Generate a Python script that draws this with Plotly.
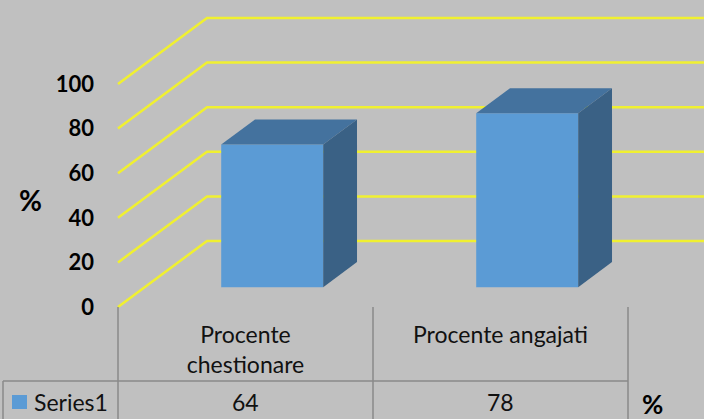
import plotly.graph_objects as go

# ---- data ----
categories = ["Procente<br>chestionare", "Procente angajati"]
series_name = "Series1"
values = [64, 78]
tick_values = [0, 20, 40, 60, 80, 100]

# ---- geometry / style constants ----
W, H = 704, 419
L, R, T, B = 100, 0, 0, 100
CAT_PX = 255.0      # pixels per category
CAT0_PX = 245.5     # pixel x of category 0 (front plane)
VAL_PX = 2.23       # pixels per value unit
ZERO_PX = 307.0     # pixel y of value 0 (front plane)
DX = 89.0 / CAT_PX  # full depth offset, category units
DY = 66.0 / VAL_PX  # full depth offset, value units
BAR_W = 0.4
T0, DT = 0.30, 0.38

BG = "#C0C0C0"
GRID = "#F0F030"
FRONT, TOP, SIDE = "#5B9BD5", "#44729E", "#3A6185"
TABLE_LINE = "#8A8A8A"
FONT = "Lato"
TXT = 23

pw, ph = W - L - R, H - T - B
xr = [(L - CAT0_PX) / CAT_PX, (W - R - CAT0_PX) / CAT_PX]
yr = [(ZERO_PX - (H - B)) / VAL_PX, (ZERO_PX - T) / VAL_PX]


def px_x(px):
    return (px - L) / pw


def px_y(py):
    return (H - B - py) / ph


fig = go.Figure()

# gridlines: left side wall + back wall
for v in tick_values:
    fig.add_trace(go.Scatter(
        x=[-0.5, -0.5 + DX, xr[1]],
        y=[v, v + DY, v + DY],
        mode="lines", line=dict(color=GRID, width=2.5),
        hoverinfo="skip", showlegend=False))

# 3D bars
for i, v in enumerate(values):
    x0 = i - BAR_W / 2 + T0 * DX
    x1 = i + BAR_W / 2 + T0 * DX
    yb = T0 * DY
    yt = v + T0 * DY
    ddx, ddy = DT * DX, DT * DY
    faces = [
        ([x0, x1, x1, x0, x0], [yb, yb, yt, yt, yb], FRONT),
        ([x0, x1, x1 + ddx, x0 + ddx, x0], [yt, yt, yt + ddy, yt + ddy, yt], TOP),
        ([x1, x1 + ddx, x1 + ddx, x1, x1], [yb, yb + ddy, yt + ddy, yt, yb], SIDE),
    ]
    for fx, fy, col in faces:
        fig.add_trace(go.Scatter(
            x=fx, y=fy, mode="lines", fill="toself", fillcolor=col,
            line=dict(width=0, color=col), hoverinfo="skip", showlegend=False))

shapes = []
annotations = []
n = len(categories)
col_edges = [CAT0_PX + CAT_PX * (i - 0.5) for i in range(n + 1)]
# table vertical lines
for ex in col_edges:
    shapes.append(dict(type="line", xref="paper", yref="paper",
                       x0=px_x(ex), x1=px_x(ex), y0=px_y(ZERO_PX), y1=px_y(H + 5),
                       line=dict(color=TABLE_LINE, width=1.5)))
row_y = 381
shapes.append(dict(type="line", xref="paper", yref="paper",
                   x0=px_x(3), x1=px_x(3), y0=px_y(row_y), y1=px_y(H + 5),
                   line=dict(color=TABLE_LINE, width=1.5)))
shapes.append(dict(type="line", xref="paper", yref="paper",
                   x0=px_x(3), x1=px_x(col_edges[-1]), y0=px_y(row_y), y1=px_y(row_y),
                   line=dict(color=TABLE_LINE, width=1.5)))
# legend key
shapes.append(dict(type="rect", xref="paper", yref="paper",
                   x0=px_x(12), x1=px_x(27), y0=px_y(409), y1=px_y(395),
                   fillcolor=FRONT, line=dict(width=0)))
annotations.append(dict(xref="paper", yref="paper", x=px_x(32), y=px_y(402),
                        text=series_name, showarrow=False, xanchor="left", yanchor="middle",
                        font=dict(family=FONT, size=TXT, color="#111")))
for i, v in enumerate(values):
    annotations.append(dict(xref="paper", yref="paper",
                            x=px_x(CAT0_PX + CAT_PX * i), y=px_y(402),
                            text=str(v), showarrow=False, xanchor="center", yanchor="middle",
                            font=dict(family=FONT, size=TXT, color="#111")))
# % labels
annotations.append(dict(xref="paper", yref="paper", x=px_x(30), y=px_y(200),
                        text="<b>%</b>", showarrow=False, xanchor="center", yanchor="middle",
                        font=dict(family=FONT, size=28, color="#000")))
annotations.append(dict(xref="paper", yref="paper", x=px_x(652), y=px_y(404),
                        text="<b>%</b>", showarrow=False, xanchor="center", yanchor="middle",
                        font=dict(family=FONT, size=26, color="#000")))

fig.update_layout(
    width=W, height=H,
    margin=dict(l=L, r=R, t=T, b=B, pad=0),
    paper_bgcolor=BG, plot_bgcolor=BG,
    showlegend=False,
    shapes=shapes, annotations=annotations,
    xaxis=dict(range=xr, showgrid=False, zeroline=False, showline=False,
               tickmode="array", tickvals=list(range(n)), ticktext=categories,
               ticks="", ticklabelstandoff=0,
               tickfont=dict(family=FONT, size=TXT, color="#111")),
    yaxis=dict(range=yr, showgrid=False, zeroline=False, showline=False,
               tickmode="array", tickvals=tick_values,
               ticktext=[str(v) for v in tick_values],
               ticks="", ticklabelstandoff=5,
               tickfont=dict(family=FONT, size=22, color="#000", weight="bold")),
)

fig.write_html("out.html",
               config={"displayModeBar": False},
               post_script="document.body.style.margin='0';document.body.style.overflow='hidden';")
